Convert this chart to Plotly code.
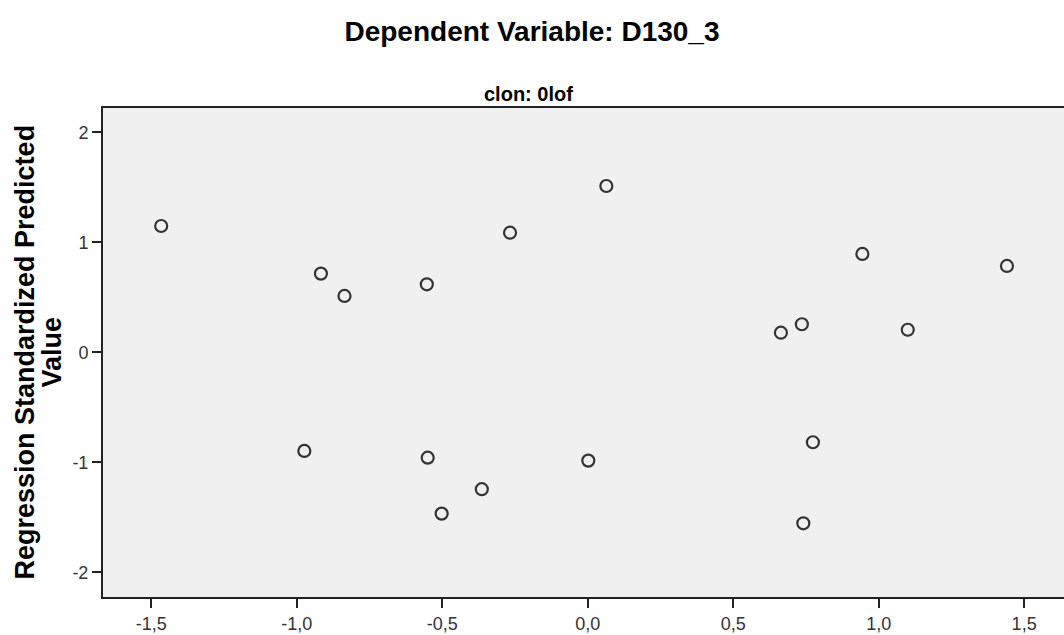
import plotly.graph_objects as go

# Data
x_vals = [-1.466, -0.917, -0.836, -0.553, -0.267, 0.064, -0.974, -0.550, -0.364,
          -0.502, 0.002, 0.664, 0.736, 0.944, 1.100, 1.441, 0.774, 0.741]
y_vals = [1.148, 0.715, 0.512, 0.618, 1.087, 1.512, -0.897, -0.958, -1.245,
          -1.467, -0.985, 0.178, 0.255, 0.894, 0.205, 0.785, -0.818, -1.555]

x_tickvals = [-1.5, -1.0, -0.5, 0.0, 0.5, 1.0, 1.5]
x_ticktext = ["-1,5", "-1,0", "-0,5", "0,0", "0,5", "1,0", "1,5"]
y_tickvals = [2, 1, 0, -1, -2]
y_ticktext = ["2", "1", "0", "-1", "-2"]

title_text = "Dependent Variable: D130_3"
panel_text = "clon: 0lof"
ylabel_line1 = "Regression Standardized Predicted"
ylabel_line2 = "Value"

W, H = 1064, 635
ML, MT, MB = 103, 108, 38
plot_w = W - ML

FONT = "Liberation Sans, Arial, sans-serif"

fig = go.Figure()
fig.add_trace(go.Scatter(
    x=x_vals, y=y_vals, mode="markers",
    marker=dict(symbol="circle-open", size=12, color="#333333",
                line=dict(width=2.2, color="#333333")),
    showlegend=False, hoverinfo="x+y",
))

fig.update_layout(
    width=W, height=H,
    margin=dict(l=ML, r=0, t=MT, b=MB, pad=0),
    paper_bgcolor="white",
    plot_bgcolor="#F0F0F0",
    font=dict(family=FONT, color="#222222"),
    title=dict(text="<b>" + title_text + "</b>", x=0.5, xanchor="center", xref="container",
               y=1 - 31 / H, yanchor="middle", yref="container",
               font=dict(size=28, color="black", family=FONT)),
    xaxis=dict(range=[-1.666, 1.637], tickvals=x_tickvals, ticktext=x_ticktext,
               ticks="outside", ticklen=9, tickwidth=2, tickcolor="#222222",
               showline=True, linecolor="#222222", linewidth=2, mirror=True,
               showgrid=False, zeroline=False,
               tickfont=dict(size=18, color="#333333", family=FONT)),
    yaxis=dict(range=[-2.225, 2.221], tickvals=y_tickvals, ticktext=y_ticktext,
               ticks="outside", ticklen=9, tickwidth=2, tickcolor="#222222",
               showline=True, linecolor="#222222", linewidth=2,
               showgrid=False, zeroline=False,
               tickfont=dict(size=18, color="#333333", family=FONT)),
    annotations=[
        dict(text="<b>" + panel_text + "</b>", xref="paper", yref="paper",
             x=(528 - ML) / plot_w, y=1 + (108 - 94) / (H - MT - MB),
             xanchor="center", yanchor="middle", showarrow=False,
             font=dict(size=20, color="black", family=FONT)),
        dict(text="<b>" + ylabel_line1 + "</b>", xref="paper", yref="paper",
             x=(24 - ML) / plot_w, y=0.5, xanchor="center", yanchor="middle",
             textangle=-90, showarrow=False,
             font=dict(size=27, color="black", family=FONT)),
        dict(text="<b>" + ylabel_line2 + "</b>", xref="paper", yref="paper",
             x=(51 - ML) / plot_w, y=0.5, xanchor="center", yanchor="middle",
             textangle=-90, showarrow=False,
             font=dict(size=27, color="black", family=FONT)),
    ],
)

fig.write_html("out.html")
